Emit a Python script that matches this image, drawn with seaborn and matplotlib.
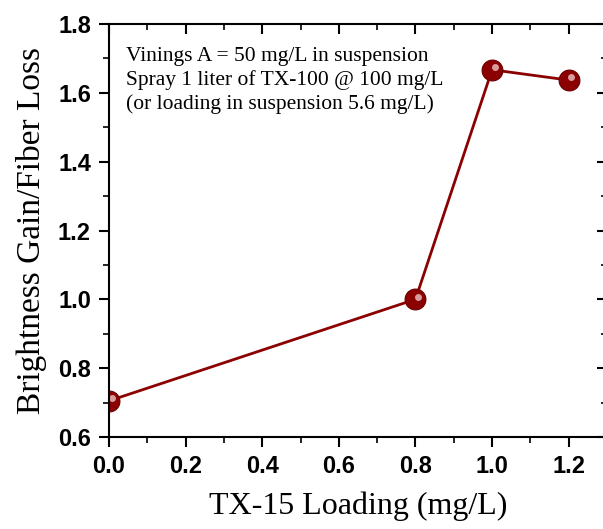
import numpy as np
import matplotlib
matplotlib.use("Agg")
import matplotlib.pyplot as plt
import matplotlib.transforms as mtransforms
from matplotlib.ticker import MultipleLocator
import pandas as pd
import seaborn as sns

# data
loading = [0.0, 0.8, 1.0, 1.2]
gain_loss = [0.705, 1.0, 1.667, 1.637]
note_lines = ["Vinings A = 50 mg/L in suspension",
              "Spray 1 liter of TX-100 @ 100 mg/L",
              "(or loading in suspension 5.6 mg/L)"]

df = pd.DataFrame({"loading": loading, "ratio": gain_loss})

sns.set_style("ticks")
plt.rcParams["font.family"] = ["Liberation Sans", "DejaVu Sans"]
plt.rcParams.update({"text.color": "black", "axes.labelcolor": "black",
                     "xtick.color": "black", "ytick.color": "black"})

fig = plt.figure(figsize=(6.03, 5.29), dpi=100)
ax = fig.add_axes([109 / 603, 92 / 529, 498 / 603, 413 / 529])

red = "#8b0000"
sns.lineplot(data=df, x="loading", y="ratio", ax=ax, color=red, lw=2,
             marker="o", markersize=15, markerfacecolor=red,
             markeredgecolor="#6a0000", markeredgewidth=0.8)
# little highlight on the balls
hl = mtransforms.offset_copy(ax.transData, fig=fig, x=2, y=2, units="points")
ax.plot(df["loading"], df["ratio"], ls="none", marker="o", markersize=5,
        color="#e8b8b8", markeredgewidth=0, transform=hl, alpha=0.85)

ax.set_xlim(0, 1.3)
ax.set_ylim(0.6, 1.8)
ax.xaxis.set_major_locator(MultipleLocator(0.2))
ax.xaxis.set_minor_locator(MultipleLocator(0.1))
ax.yaxis.set_major_locator(MultipleLocator(0.2))
ax.yaxis.set_minor_locator(MultipleLocator(0.1))
ax.set_xticks([0, 0.2, 0.4, 0.6, 0.8, 1.0, 1.2])

for s in ax.spines.values():
    s.set_visible(True)
    s.set_linewidth(1.5)
    s.set_color("black")

ax.tick_params(axis="both", which="major", direction="out", length=7, width=1.5,
               labelsize=17, pad=6, colors="black")
ax.tick_params(axis="both", which="minor", direction="out", length=4, width=1.2,
               colors="black")
ax.tick_params(which="both", top=True, right=True)
# top/right ticks point inward
for t in ax.xaxis.get_major_ticks() + ax.xaxis.get_minor_ticks():
    t.tick2line.set_marker(matplotlib.lines.TICKDOWN)
for t in ax.yaxis.get_major_ticks() + ax.yaxis.get_minor_ticks():
    t.tick2line.set_marker(matplotlib.lines.TICKLEFT)
for lab in ax.get_xticklabels() + ax.get_yticklabels():
    lab.set_fontweight("bold")

ax.set_xlabel("TX-15 Loading (mg/L)", fontfamily="Liberation Serif", fontsize=23,
              labelpad=10, color="black")
ax.set_ylabel("Brightness Gain/Fiber Loss", fontfamily="Liberation Serif",
              fontsize=24, labelpad=8, color="black")

ax.text(0.035, 0.945, "\n".join(note_lines), transform=ax.transAxes, va="top",
        ha="left", fontfamily="Liberation Serif", fontsize=15.5, linespacing=1.3,
        color="black")

fig.savefig("out.png", dpi=100)
